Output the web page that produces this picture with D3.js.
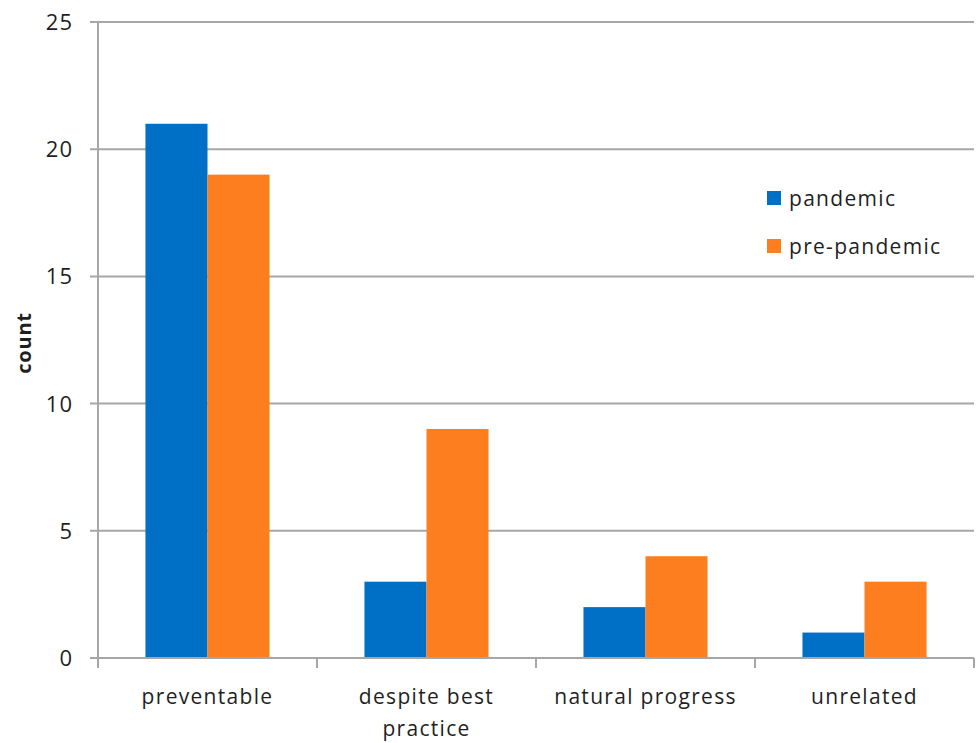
<!DOCTYPE html>
<html>
<head>
<meta charset="utf-8">
<script src="https://cdn.jsdelivr.net/npm/d3@7"></script>
<style>
  html, body { margin: 0; padding: 0; background: #fff; }
  svg { display: block; }
  text { font-family: "Open Sans", "DejaVu Sans", sans-serif; fill: #1f1f1f; }
</style>
</head>
<body>
<svg id="chart" width="978" height="743"></svg>
<script>
// Categories and counts per period
const categories = ["preventable", "despite best practice", "natural progress", "unrelated"];
const categoryLines = [["preventable"], ["despite best", "practice"], ["natural progress"], ["unrelated"]];
const seriesNames = ["pandemic", "pre-pandemic"];
const pandemic = [21, 3, 2, 1];
const prePandemic = [19, 9, 4, 3];
const yTicks = [0, 5, 10, 15, 20, 25];
const colors = ["#0070C6", "#FD7E1F"];

const svg = d3.select("#chart");
const margin = { left: 98, right: 4, top: 22, bottom: 85 };
const W = 978, H = 743;
const x0 = margin.left, x1 = W - margin.right;
const yTop = margin.top, yBottom = H - margin.bottom;

const x = d3.scaleBand().domain(categories).range([x0, x1]).paddingInner(0).paddingOuter(0);
const xs = d3.scaleBand().domain(seriesNames).range([0, x.bandwidth()]).paddingInner(0).paddingOuter(0.765);
const y = d3.scaleLinear().domain([0, 25]).range([yBottom, yTop]);

const gridColor = "#A6A6A6";
const labelFont = 21, labelSpacing = "1.3px";

// Horizontal gridlines with short ticks to the left of the axis
svg.append("g").selectAll("line").data(yTicks).join("line")
  .attr("x1", x0 - 8).attr("x2", x1)
  .attr("y1", d => y(d)).attr("y2", d => y(d))
  .attr("stroke", gridColor).attr("stroke-width", 2);

// Y axis line
svg.append("line")
  .attr("x1", x0).attr("x2", x0)
  .attr("y1", yTop).attr("y2", yBottom + 1)
  .attr("stroke", gridColor).attr("stroke-width", 2);

// Y tick labels
svg.append("g").selectAll("text").data(yTicks).join("text")
  .attr("x", 73).attr("y", d => y(d))
  .attr("dy", "0.36em")
  .attr("text-anchor", "end")
  .attr("font-size", 22)
  .attr("letter-spacing", "1px")
  .text(d => d);

// Y axis title
svg.append("text")
  .attr("transform", `translate(31, ${(yTop + yBottom) / 2 + 3}) rotate(-90)`)
  .attr("text-anchor", "middle")
  .attr("font-size", 20)
  .attr("font-weight", "bold")
  .attr("letter-spacing", "0.8px")
  .attr("fill", "#000")
  .text("count");

// Bars
const rows = categories.map((c, i) => ({ cat: c, values: [pandemic[i], prePandemic[i]] }));
const groups = svg.append("g").selectAll("g").data(rows).join("g")
  .attr("transform", d => `translate(${x(d.cat)},0)`);
groups.selectAll("rect").data(d => d.values.map((v, j) => ({ key: seriesNames[j], v, j }))).join("rect")
  .attr("x", d => xs(d.key))
  .attr("width", xs.bandwidth())
  .attr("y", d => y(d.v))
  .attr("height", d => y(0) - y(d.v))
  .attr("fill", d => colors[d.j]);

// X axis line and category ticks
svg.append("line")
  .attr("x1", x0 - 8).attr("x2", x1)
  .attr("y1", yBottom).attr("y2", yBottom)
  .attr("stroke", gridColor).attr("stroke-width", 2);
const xTickPos = categories.map(c => x(c)).concat([x1]);
svg.append("g").selectAll("line").data(xTickPos).join("line")
  .attr("x1", d => d).attr("x2", d => d)
  .attr("y1", yBottom).attr("y2", yBottom + 10)
  .attr("stroke", gridColor).attr("stroke-width", 2);

// Category labels
const labels = svg.append("g").selectAll("text").data(categories).join("text")
  .attr("x", d => x(d) + x.bandwidth() / 2)
  .attr("y", yBottom + 46)
  .attr("text-anchor", "middle")
  .attr("font-size", labelFont)
  .attr("letter-spacing", labelSpacing);
labels.selectAll("tspan").data((d, i) => categoryLines[i]).join("tspan")
  .attr("x", function () { return d3.select(this.parentNode).attr("x"); })
  .attr("dy", (d, i) => i === 0 ? 0 : 32)
  .text(d => d);

// Legend
const legend = svg.append("g").attr("transform", "translate(767, 191)");
const items = legend.selectAll("g").data(seriesNames).join("g")
  .attr("transform", (d, i) => `translate(0, ${i * 48})`);
items.append("rect").attr("width", 14).attr("height", 14).attr("fill", (d, i) => colors[i]);
items.append("text").attr("x", 22).attr("y", 8).attr("dy", "0.35em")
  .attr("font-size", labelFont).attr("letter-spacing", labelSpacing).text(d => d);
</script>
</body>
</html>
